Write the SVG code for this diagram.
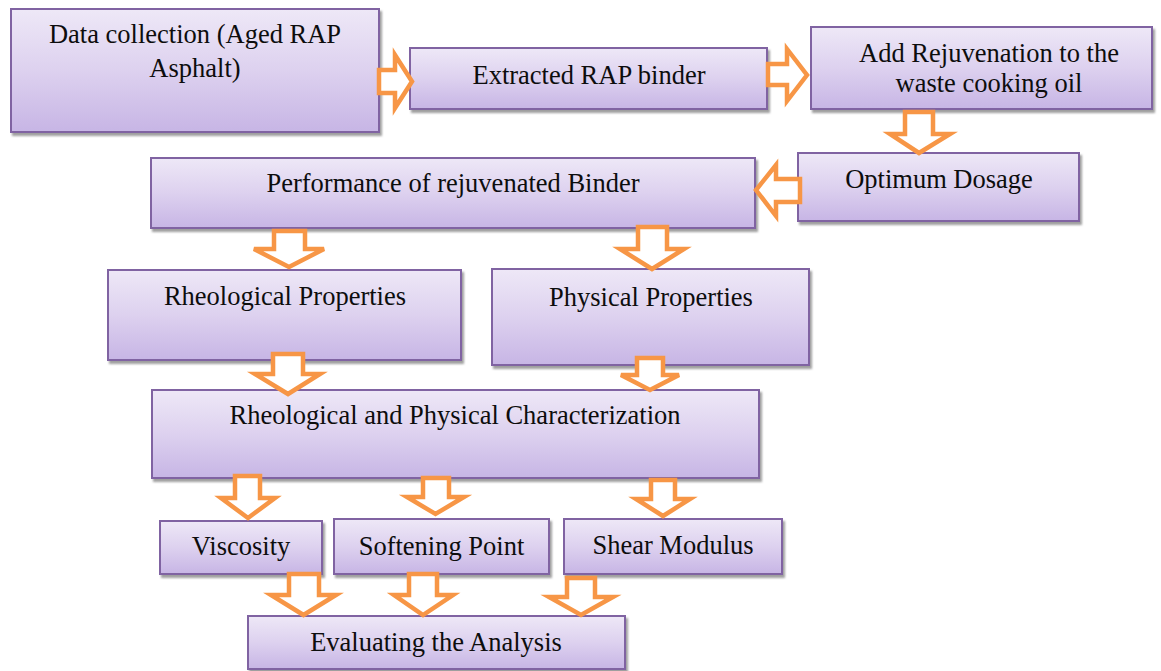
<svg xmlns="http://www.w3.org/2000/svg" width="1161" height="671" viewBox="0 0 1161 671">
<defs>
<linearGradient id="g" x1="0" y1="0" x2="0" y2="1">
<stop offset="0" stop-color="#EEE8F7"/>
<stop offset="0.5" stop-color="#DDD1EF"/>
<stop offset="1" stop-color="#C7B5E5"/>
</linearGradient>
<filter id="sh" x="-5%" y="-10%" width="115%" height="130%">
<feDropShadow dx="2" dy="3" stdDeviation="1" flood-color="#7F7F7F" flood-opacity="0.75"/>
</filter>
</defs>
<style>
.box{fill:url(#g);stroke:#8064A2;stroke-width:2;filter:url(#sh)}
.t{font-family:"Liberation Serif","Times New Roman",serif;font-size:26.5px;fill:#0D0D0D;text-anchor:middle}
.ar{fill:#FFFFFF;stroke:#F79646;stroke-width:4.5;stroke-linejoin:miter}
</style>
<rect width="1161" height="671" fill="#FFFFFF"/>
<g id="n1"><rect class="box" x="11" y="9" width="368" height="123"/><text class="t" x="195" y="43">Data collection (Aged RAP</text><text class="t" x="195" y="77">Asphalt)</text></g>
<g id="n2"><rect class="box" x="410" y="48" width="357" height="61"/><text class="t" x="589" y="84">Extracted RAP binder</text></g>
<g id="n3"><rect class="box" x="811" y="27" width="341" height="82"/><text class="t" x="989" y="62">Add Rejuvenation to the</text><text class="t" x="989" y="92">waste cooking oil</text></g>
<g id="n4"><rect class="box" x="798" y="153" width="281" height="68"/><text class="t" x="939" y="188">Optimum Dosage</text></g>
<g id="n5"><rect class="box" x="151" y="158" width="604" height="70"/><text class="t" x="453" y="192">Performance of rejuvenated Binder</text></g>
<g id="n6"><rect class="box" x="108" y="270" width="353" height="90"/><text class="t" x="285" y="305">Rheological Properties</text></g>
<g id="n7"><rect class="box" x="492" y="269" width="317" height="96"/><text class="t" x="651" y="306">Physical Properties</text></g>
<g id="n8"><rect class="box" x="152" y="390" width="607" height="88"/><text class="t" x="455" y="424">Rheological and Physical Characterization</text></g>
<g id="n9"><rect class="box" x="160" y="521" width="162" height="53"/><text class="t" x="241" y="555">Viscosity</text></g>
<g id="n10"><rect class="box" x="334" y="519" width="215" height="55"/><text class="t" x="441.5" y="555">Softening Point</text></g>
<g id="n11"><rect class="box" x="564" y="519" width="218" height="55"/><text class="t" x="673" y="554">Shear Modulus</text></g>
<g id="n12"><rect class="box" x="248" y="616" width="377" height="53"/><text class="t" x="436" y="651">Evaluating the Analysis</text></g>
<g id="connectors">
<path class="ar" d="M379,70 H395 V55 L412,81.5 L395,108 V93 H379 Z"/>
<path class="ar" d="M768,64 H787 V49 L807,75 L787,101 V85 H768 Z"/>
<path class="ar" d="M905,112 H933 V134 H950 L919,153 L890,134 H905 Z"/>
<path class="ar" d="M800,179 H776 V165 L756,190 L776,216 V202 H800 Z"/>
<path class="ar" d="M274,231 H305 V249 H324 L289,267 L254,249 H274 Z"/>
<path class="ar" d="M638,227 H667 V249 H684 L652,269 L620,249 H638 Z"/>
<path class="ar" d="M273,354 H303 V374 H320 L288,394 L255,374 H273 Z"/>
<path class="ar" d="M637,358 H663 V375 H679 L650,390 L621,375 H637 Z"/>
<path class="ar" d="M235,476 H260 V498 H275 L248,518 L221,498 H235 Z"/>
<path class="ar" d="M423,478 H449 V497 H464 L435.5,514 L407,497 H423 Z"/>
<path class="ar" d="M651,480 H675 V499 H690 L663,516 L636,499 H651 Z"/>
<path class="ar" d="M289,574 H319 V595 H336 L303.5,615 L271,595 H289 Z"/>
<path class="ar" d="M409,574 H437 V595 H453 L423,615 L394,595 H409 Z"/>
<path class="ar" d="M567,578 H595 V597 H613 L581,615 L549,597 H567 Z"/>
</g>
</svg>
